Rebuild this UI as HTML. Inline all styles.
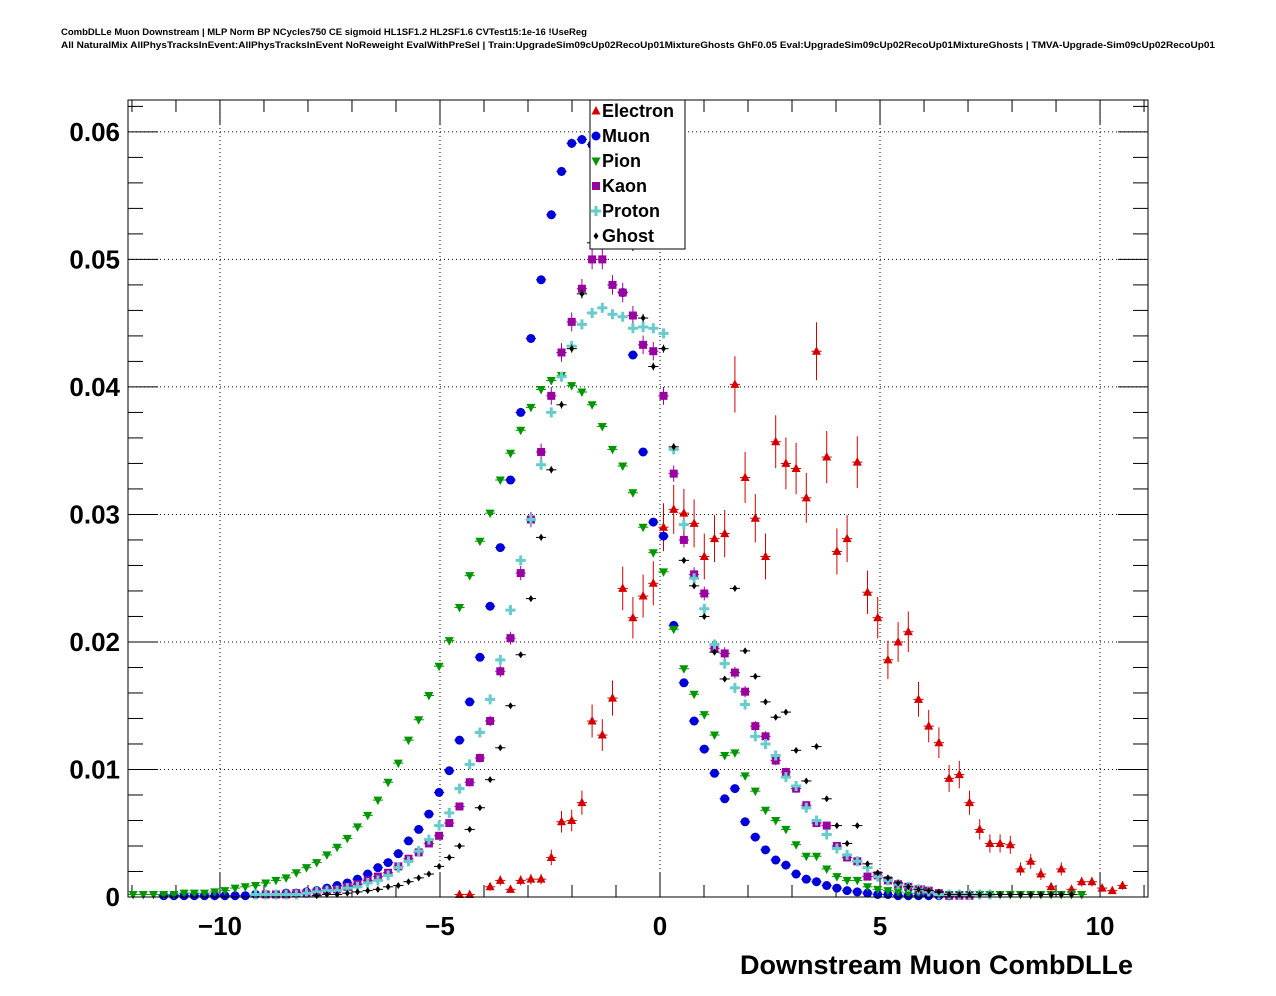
<!DOCTYPE html>
<html><head><meta charset="utf-8">
<style>
html,body{margin:0;padding:0;background:#fff;}
svg{display:block;font-family:"Liberation Sans",Arial,sans-serif;}
</style></head>
<body>
<svg id="chart" width="1276" height="996" viewBox="0 0 1276 996" xmlns="http://www.w3.org/2000/svg">
<rect x="0" y="0" width="1276" height="996" fill="#fff"/>
<text x="61" y="35" font-size="9" font-weight="bold" textLength="526" lengthAdjust="spacingAndGlyphs">CombDLLe Muon Downstream | MLP Norm BP NCycles750 CE sigmoid HL1SF1.2 HL2SF1.6 CVTest15:1e-16 !UseReg</text>
<text x="61" y="48" font-size="9" font-weight="bold" textLength="1154" lengthAdjust="spacingAndGlyphs">All NaturalMix AllPhysTracksInEvent:AllPhysTracksInEvent NoReweight EvalWithPreSel | Train:UpgradeSim09cUp02RecoUp01MixtureGhosts GhF0.05 Eval:UpgradeSim09cUp02RecoUp01MixtureGhosts | TMVA-Upgrade-Sim09cUp02RecoUp01</text>
<g id="grid"></g>
<g id="axes"></g>
<g id="series"></g>
<rect x="128" y="100" width="1020" height="797" fill="none" stroke="#000" stroke-width="1"/>
<text x="1133" y="974" font-size="27" font-weight="bold" text-anchor="end">Downstream Muon CombDLLe</text>
<g id="legend">
<rect x="590" y="100" width="95" height="149" fill="#fff" stroke="#000" stroke-width="1"/>
</g>
</svg>
<script>
const binCount = 100;
const xMin = -12.09, xMax = 11.09;
const yMin = 0, yMax = 0.0625;
const xTicks = [-10, -5, 0, 5, 10];
const xTickLabels = ["\u221210", "\u22125", "0", "5", "10"];
const yTicks = [0, 0.01, 0.02, 0.03, 0.04, 0.05, 0.06];
const yTickLabels = ["0", "0.01", "0.02", "0.03", "0.04", "0.05", "0.06"];
const seriesNames = ["Electron", "Muon", "Pion", "Kaon", "Proton", "Ghost"];

const electronStart = 32;
const electronValues = [0.0002,0.0002,null,0.0008,0.0013,0.0006,0.0013,0.0014,0.0014,0.0031,0.0059,0.006,0.0074,0.0138,0.0127,0.0156,0.0242,0.0219,0.0236,0.0246,0.029,0.0304,0.0301,0.0293,0.0267,0.0281,0.0285,0.0402,0.0329,0.0297,0.0267,0.0357,0.034,0.0336,0.0313,0.0428,0.0345,0.0271,0.0281,0.0341,0.0239,0.0219,0.0186,0.02,0.0208,0.0155,0.0134,0.0121,0.0093,0.0096,0.0074,0.0053,0.0042,0.0042,0.0041,0.0022,0.0028,0.0018,0.0008,0.0022,0.0006,0.0012,0.0012,0.0007,0.0005,0.0009];
const muonStart = 3;
const muonValues = [0.0001,0.0001,0.0001,0.0001,0.0001,0.0001,0.0001,0.0001,0.0001,0.0002,0.0002,0.0002,0.0003,0.0003,0.0004,0.0005,0.0007,0.0009,0.0011,0.0014,0.0018,0.0023,0.0027,0.0034,0.0044,0.0053,0.0065,0.0082,0.0099,0.0123,0.0153,0.0188,0.0228,0.0274,0.0327,0.038,0.0438,0.0484,0.0535,0.0569,0.0591,0.0594,0.059,0.058,0.054,0.0474,0.0425,0.0349,0.0294,0.0283,0.0213,0.0168,0.0138,0.0116,0.0097,0.0077,0.0085,0.0059,0.0047,0.0037,0.0029,0.0025,0.0018,0.0014,0.0012,0.0009,0.0007,0.0005,0.0004,0.0003,0.0002,0.0002,0.0001,0.0001,0.0001,0.0001,0.0001,0.0001];
const pionStart = 0;
const pionValues = [0.0002,0.0002,0.0002,0.0002,0.0002,0.0003,0.0003,0.0003,0.0004,0.0005,0.0007,0.0008,0.0009,0.0011,0.0013,0.0015,0.0019,0.0023,0.0027,0.0033,0.0039,0.0046,0.0055,0.0064,0.0076,0.009,0.0105,0.0123,0.0139,0.0158,0.0181,0.0201,0.0227,0.0252,0.0279,0.0301,0.0327,0.0348,0.0366,0.0384,0.0398,0.0405,0.0409,0.0401,0.0396,0.0386,0.0369,0.0351,0.0338,0.0317,0.029,0.027,0.0255,0.021,0.0179,0.0159,0.0143,0.0127,0.0111,0.0113,0.0095,0.0083,0.0068,0.006,0.0053,0.0041,0.0032,0.0032,0.0022,0.0016,0.0013,0.0013,0.0008,0.0006,0.0005,0.0004,0.0003,0.0003,0.0003,0.0002,0.0002,0.0002,0.0002,0.0002,0.0002,0.0002,0.0002,0.0002,0.0002,0.0002,0.0002,0.0002,0.0002,0.0002];
const kaonStart = 13;
const kaonValues = [0.0002,0.0002,0.0002,0.0003,0.0003,0.0004,0.0005,0.0006,0.0008,0.001,0.0013,0.0016,0.0019,0.0024,0.003,0.0035,0.0042,0.0048,0.0058,0.0071,0.009,0.0109,0.0138,0.0177,0.0203,0.0254,0.0296,0.0349,0.0393,0.0427,0.0451,0.0477,0.05,0.05,0.048,0.0474,0.0456,0.0433,0.0428,0.0393,0.0332,0.028,0.0253,0.0238,0.0195,0.0191,0.0176,0.0161,0.0134,0.0126,0.0107,0.0098,0.0085,0.0072,0.0058,0.0056,0.004,0.0031,0.0028,0.0016,0.0017,0.0013,0.001,0.0008,0.0006,0.0005,0.0003,0.0001,0.0001,0.0001];
const protonStart = 12;
const protonValues = [0.0002,0.0002,0.0002,0.0002,0.0002,0.0003,0.0004,0.0005,0.0005,0.0007,0.0008,0.0011,0.0013,0.0017,0.0023,0.0028,0.0036,0.0045,0.0056,0.0066,0.0085,0.0104,0.0129,0.0155,0.0186,0.0225,0.0264,0.0296,0.0339,0.038,0.0408,0.0432,0.0449,0.0458,0.0462,0.0457,0.0455,0.0446,0.0447,0.0446,0.0442,0.0351,0.0292,0.025,0.0226,0.0198,0.0183,0.0164,0.0151,0.0126,0.012,0.0111,0.0094,0.0087,0.007,0.006,0.0049,0.0038,0.0033,0.0028,0.0023,0.0016,0.0013,0.001,0.0008,0.0006,0.0004,0.0002,0.0002,0.0002,0.0002,0.0002,0.0002];
const ghostStart = 18;
const ghostValues = [0.0001,0.0002,0.0002,0.0003,0.0004,0.0005,0.0006,0.0008,0.0009,0.0012,0.0015,0.0018,0.0024,0.0031,0.004,0.0053,0.007,0.0092,0.0117,0.015,0.019,0.0234,0.0282,0.0335,0.0386,0.043,0.0473,0.0513,0.053,0.052,0.0515,0.051,0.0454,0.0416,0.043,0.0353,0.0264,0.0244,0.022,0.0192,0.0171,0.0242,0.0193,0.0173,0.0153,0.0141,0.0145,0.0115,0.0091,0.0118,0.0077,0.0056,0.0042,0.0056,0.0026,0.0019,0.0015,0.0011,0.0008,0.0006,0.0005,0.0004,0.0002,0.0002,0.0002,0.0002,0.0002,0.0002,0.0002,0.0002,0.0002,0.0002,0.0002,0.0002,0.0002];

const NS = "http://www.w3.org/2000/svg";
const L = 128, R = 1148, T = 100, B = 897;
function xScale(v){ return L + (v - xMin) / (xMax - xMin) * (R - L); }
function yScale(v){ return B - (v - yMin) / (yMax - yMin) * (B - T); }
const binW = (xMax - xMin) / binCount;
function binCenter(i){ return xMin + (i + 0.5) * binW; }
function mk(tag, attrs, parent){
  const e = document.createElementNS(NS, tag);
  for (const k in attrs) e.setAttribute(k, attrs[k]);
  parent.appendChild(e);
  return e;
}
const grid = document.getElementById('grid');
const axes = document.getElementById('axes');
const seriesG = document.getElementById('series');
const legend = document.getElementById('legend');

xTicks.forEach(function(t){
  const l = mk('line', {x1: xScale(t), x2: xScale(t), y1: T, y2: B, stroke: '#000', 'stroke-width': 1, 'stroke-dasharray': '1,3'}, grid);
  
  
});
yTicks.forEach(function(t){
  if (t === 0) return;
  const l = mk('line', {x1: L, x2: R, y1: yScale(t), y2: yScale(t), stroke: '#000', 'stroke-width': 1, 'stroke-dasharray': '1,3'}, grid);
  
  
});
for (let v = Math.ceil(xMin); v <= xMax; v++) {
  const major = (v % 5 === 0);
  const len = major ? 24 : 12;
  const x = xScale(v);
  const t1 = mk('line', {x1: x, x2: x, y1: B, y2: B - len, stroke: '#000', 'stroke-width': 1}, axes);
  
  
  const t2 = mk('line', {x1: x, x2: x, y1: T, y2: T + len, stroke: '#000', 'stroke-width': 1}, axes);
  
  
}
xTicks.forEach(function(t, i){
  const tx = mk('text', {x: xScale(t), y: 935, 'font-size': 26, 'font-weight': 'bold', 'text-anchor': 'middle'}, axes);
  tx.textContent = xTickLabels[i];
  
  
});
for (let k = 0; k * 0.002 <= yMax + 1e-9; k++) {
  const v = k * 0.002;
  const major = (k % 5 === 0);
  const len = major ? 30 : 15;
  const y = yScale(v);
  const t1 = mk('line', {x1: L, x2: L + len, y1: y, y2: y, stroke: '#000', 'stroke-width': 1}, axes);
  
  
  const t2 = mk('line', {x1: R, x2: R - len, y1: y, y2: y, stroke: '#000', 'stroke-width': 1}, axes);
  
  
}
yTicks.forEach(function(t, i){
  const tx = mk('text', {x: 120, y: yScale(t) + 9, 'font-size': 26, 'font-weight': 'bold', 'text-anchor': 'end'}, axes);
  tx.textContent = yTickLabels[i];
  
  
});

function marker(kind, color, cx, cy, parent){
  let e;
  if (kind === 'tri-up') e = mk('path', {d: 'M' + cx + ',' + (cy - 5) + ' L' + (cx + 4.5) + ',' + (cy + 3.5) + ' L' + (cx - 4.5) + ',' + (cy + 3.5) + ' Z', fill: color}, parent);
  else if (kind === 'circle') e = mk('circle', {cx: cx, cy: cy, r: 4.5, fill: color}, parent);
  else if (kind === 'tri-down') e = mk('path', {d: 'M' + cx + ',' + (cy + 5) + ' L' + (cx + 4.5) + ',' + (cy - 3.5) + ' L' + (cx - 4.5) + ',' + (cy - 3.5) + ' Z', fill: color}, parent);
  else if (kind === 'square') e = mk('rect', {x: cx - 4, y: cy - 4, width: 8, height: 8, fill: color}, parent);
  else if (kind === 'cross') e = mk('path', {d: 'M' + (cx - 1.5) + ',' + (cy - 5) + 'h3v3.5h3.5v3h-3.5v3.5h-3v-3.5h-3.5v-3h3.5z', fill: color}, parent);
  else e = mk('path', {d: 'M' + cx + ',' + (cy - 3.5) + ' L' + (cx + 2.5) + ',' + cy + ' L' + cx + ',' + (cy + 3.5) + ' L' + (cx - 2.5) + ',' + cy + ' Z', fill: color}, parent);
  return e;
}

const seriesDefs = [
  {name: 'electron', start: electronStart, vals: electronValues, color: '#d40000', kind: 'tri-up', err: 0.011},
  {name: 'muon', start: muonStart, vals: muonValues, color: '#0000d8', kind: 'circle', err: 0.0015},
  {name: 'pion', start: pionStart, vals: pionValues, color: '#009600', kind: 'tri-down', err: 0.0012},
  {name: 'kaon', start: kaonStart, vals: kaonValues, color: '#9900a0', kind: 'square', err: 0.0035},
  {name: 'proton', start: protonStart, vals: protonValues, color: '#66cccc', kind: 'cross', err: 0.0015},
  {name: 'ghost', start: ghostStart, vals: ghostValues, color: '#000000', kind: 'diamond', err: 0.0015}
];

seriesDefs.forEach(function(s){
  const g = mk('g', {}, seriesG);
  
  
  s.vals.forEach(function(v, j){
    if (v === null) return;
    const i = s.start + j;
    const cx = xScale(binCenter(i));
    const cy = yScale(v);
    const e = s.err * Math.sqrt(v);
    const hx = mk('line', {x1: xScale(binCenter(i) - binW / 2), x2: xScale(binCenter(i) + binW / 2), y1: cy, y2: cy, stroke: s.color, 'stroke-width': 1}, g);
    
    
    const vy = mk('line', {x1: cx, x2: cx, y1: yScale(v + e), y2: Math.min(B, yScale(v - e)), stroke: s.color, 'stroke-width': 1}, g);
    
    
    const m = marker(s.kind, s.color, cx, cy, g);
    
    
  });
});

seriesDefs.forEach(function(s, k){
  const y = 111 + k * 25;
  const m = marker(s.kind, s.color, 596, y, legend);
  
  
  const t = mk('text', {x: 602, y: y + 6, 'font-size': 18, 'font-weight': 'bold'}, legend);
  t.textContent = seriesNames[k];
  
  
});
</script>
</body></html>
